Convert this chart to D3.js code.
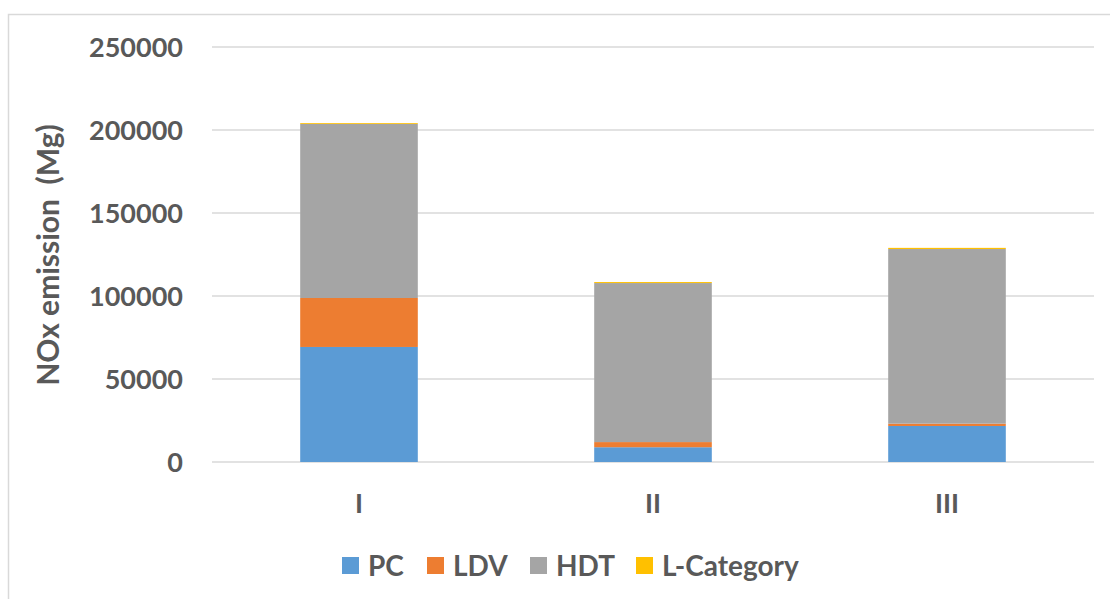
<!DOCTYPE html>
<html><head><meta charset="utf-8">
<script src="https://cdn.jsdelivr.net/npm/d3@7/dist/d3.min.js"></script>
<style>body{margin:0;background:#fff;} text{font-family:Lato,"Open Sans",sans-serif;font-weight:bold;fill:#595959;}</style>
</head><body>
<svg id="c" width="1110" height="599"></svg>
<script>
const categories = ["I", "II", "III"];
const seriesNames = ["PC", "LDV", "HDT", "L-Category"];
const PC = [69300, 8900, 21700];
const LDV = [29500, 3100, 1400];
const HDT = [104900, 95800, 105200];
const LCategory = [500, 600, 700];
const yTicks = [0, 50000, 100000, 150000, 200000, 250000];
const colors = ["#5b9bd5", "#ed7d31", "#a5a5a5", "#ffc000"];

const FONT = "Lato,'Open Sans',sans-serif";
const svg = d3.select("#c");
svg.append("rect").attr("x", 8.5).attr("y", 14.5).attr("width", 1110).attr("height", 600)
  .attr("fill", "none").attr("stroke", "#d9d9d9").attr("stroke-width", 1.5);

const x = d3.scaleBand().domain(categories).range([212, 1094]).paddingInner(0.6).paddingOuter(0.3);
const y = d3.scaleLinear().domain([0, 250000]).range([462, 47]);

const g = svg.append("g");
g.selectAll("line.grid").data(yTicks).join("line")
  .attr("x1", 212).attr("x2", 1094).attr("y1", d => y(d)).attr("y2", d => y(d))
  .attr("stroke", "#d9d9d9").attr("stroke-width", 1.5);

const yAxis = d3.axisLeft(y).tickValues(yTicks).tickSize(0).tickPadding(0).tickFormat(d3.format("d"));
const ya = svg.append("g").attr("transform", "translate(183,0)").call(yAxis);
ya.select(".domain").remove();
ya.selectAll("text").attr("font-size", 27).attr("dy", "0.36em").style("font-family", FONT).style("font-weight", "bold").attr("fill", "#595959");

const xAxis = d3.axisBottom(x).tickSize(0).tickPadding(0);
const xa = svg.append("g").attr("transform", "translate(0,503)").call(xAxis);
xa.select(".domain").remove();
xa.selectAll("text").attr("font-size", 27).attr("dy", "0.36em").attr("y", 0).style("font-family", FONT).style("font-weight", "bold").attr("fill", "#595959");

const data = categories.map((c, i) => ({cat: c, PC: PC[i], LDV: LDV[i], HDT: HDT[i], "L-Category": LCategory[i]}));
const stack = d3.stack().keys(seriesNames)(data);
svg.append("g").selectAll("g").data(stack).join("g").attr("fill", (d, i) => colors[i])
  .selectAll("rect").data(d => d).join("rect")
  .attr("x", d => x(d.data.cat)).attr("width", x.bandwidth())
  .attr("y", d => y(d[1])).attr("height", d => y(d[0]) - y(d[1]));

svg.append("text").attr("transform", "translate(59,255) rotate(-90)").attr("text-anchor", "middle")
  .attr("font-size", 30).style("white-space", "pre").attr("xml:space", "preserve").text("NOx emission  (Mg)");

const legX = [342, 427, 530, 636];
const lg = svg.append("g").selectAll("g").data(seriesNames).join("g")
  .attr("transform", (d, i) => `translate(${legX[i]},557)`);
lg.append("rect").attr("width", 17).attr("height", 17).attr("fill", (d, i) => colors[i]);
lg.append("text").attr("x", 26).attr("y", 8.5).attr("dy", "0.36em").attr("font-size", 28).text(d => d);
</script>
</body></html>
